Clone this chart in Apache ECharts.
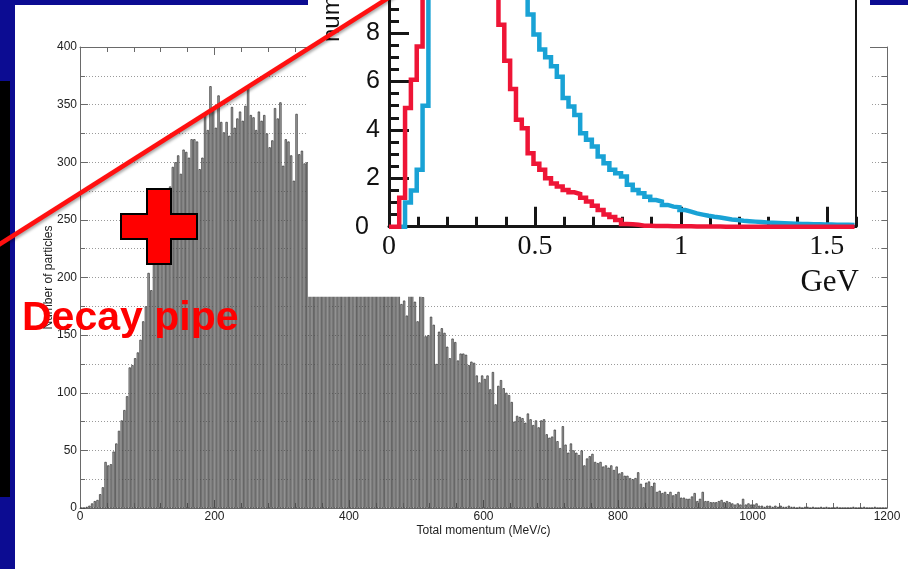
<!DOCTYPE html>
<html>
<head>
<meta charset="utf-8">
<title>Total momentum</title>
<script src="https://cdn.jsdelivr.net/npm/echarts@6/dist/echarts.min.js"></script>
<style>
html, body { margin: 0; padding: 0; background: #0c0c92; }
#chart { width: 908px; height: 569px; }
</style>
</head>
<body>
<div id="chart"></div>
<script>
// main histogram: counts per 4 MeV/c bin
var MOM_BIN = 4;
var counts0to200 = [
    0, 0, 1, 2, 4, 6, 7, 12, 18, 40,
    37, 38, 49, 56, 67, 76, 85, 97, 122, 124,
    130, 135, 146, 162, 175, 204, 189, 225, 238, 248,
    255, 262, 270, 279, 296, 300, 306, 290, 311, 309,
    304, 320, 320, 318, 294, 304, 341, 328, 366, 345
];
var counts200to400 = [
    330, 358, 335, 326, 335, 323, 348, 330, 338, 344,
    336, 349, 365, 341, 339, 328, 344, 336, 341, 325,
    313, 319, 347, 338, 352, 297, 320, 318, 306, 284,
    342, 307, 310, 299, 300, 297, 291, 300, 284, 288,
    279, 285, 271, 276, 268, 272, 259, 266, 255, 258
];
var counts400to600 = [
    254, 247, 250, 241, 245, 236, 239, 230, 233, 224,
    227, 218, 220, 212, 214, 205, 207, 198, 192, 177,
    180, 167, 188, 190, 179, 162, 186, 183, 149, 150,
    166, 159, 125, 153, 156, 152, 140, 130, 147, 144,
    128, 134, 134, 133, 124, 127, 126, 115, 109, 115
];
var counts600to800 = [
    112, 115, 103, 118, 90, 106, 111, 104, 100, 98,
    92, 75, 80, 79, 78, 74, 82, 77, 72, 76,
    70, 76, 77, 64, 61, 62, 68, 58, 52, 71,
    55, 48, 56, 50, 48, 46, 50, 37, 43, 45,
    47, 40, 39, 40, 36, 37, 35, 37, 33, 36
];
var counts800to1000 = [
    30, 31, 28, 28, 26, 25, 26, 31, 21, 18,
    22, 23, 19, 22, 14, 15, 13, 14, 12, 14,
    11, 12, 14, 9, 9, 8, 8, 10, 13, 6,
    8, 14, 6, 6, 5, 5, 5, 6, 7, 5,
    6, 5, 4, 3, 4, 3, 8, 3, 4, 3
];
var counts1000to1200 = [
    3, 4, 2, 2, 1, 2, 2, 1, 2, 1,
    2, 1, 1, 2, 1, 1, 0, 1, 0, 1,
    1, 0, 1, 0, 0, 1, 0, 1, 0, 0,
    0, 1, 0, 0, 0, 0, 0, 1, 0, 0,
    0, 1, 0, 0, 0, 1, 0, 0, 0, 0
];

// inset: two spectra in GeV, 0.02 GeV bins
var GEV_BIN = 0.02;
var redStart = 0.035;
var redCounts = [
    1.2, 4.9, 6.07, 7.45, 11, 14, 16.5, 18, 19, 19,
    18.5, 17.5, 16, 14.5, 13, 11.5, 10.2, 8.35, 6.86, 5.69,
    4.42, 4.07, 3.04, 2.6, 2.35, 2.0, 1.79, 1.66, 1.52, 1.42,
    1.35, 1.2, 1.04, 0.87, 0.69, 0.5, 0.4, 0.28, 0.11, 0.1,
    0.08, 0.04, 0.04, 0.03, 0.03, 0.03, 0.02, 0.02, 0.02, 0.02,
    0.01, 0.01, 0.01, 0.01, 0.01, 0, 0, 0, 0, 0,
    0, 0, 0, 0, 0, 0, 0, 0, 0, 0,
    0, 0, 0, 0, 0, 0, 0, 0
];
var blueStart = 0.055;
var blueCounts = [
    1.0, 1.5, 2.35, 5.0,
    9.8, 12, 14, 15.5, 16.5, 17, 17.2, 17, 16.5, 15.8,
    15, 14, 13, 12, 11.2, 10.4, 9.7,
    8.77, 7.94, 7.32, 7.0, 6.63, 6.2, 5.32, 4.97, 4.62, 3.86,
    3.59, 3.31, 2.9, 2.62, 2.35, 2.21, 2.07, 1.73, 1.52, 1.38,
    1.24, 1.1, 1.04, 0.9, 0.83, 0.8, 0.69, 0.62, 0.55, 0.5,
    0.45, 0.41, 0.38, 0.34, 0.3, 0.28, 0.25, 0.23, 0.21, 0.19,
    0.17, 0.16, 0.15, 0.14, 0.13, 0.12, 0.11, 0.11, 0.1, 0.1,
    0.09, 0.09, 0.08, 0.08, 0.08, 0.07
];

var momentumCounts = [].concat(counts0to200, counts200to400, counts400to600,
    counts600to800, counts800to1000, counts1000to1200);
var momentumBars = momentumCounts.map(function(c, i) {
    return [i * MOM_BIN + MOM_BIN / 2, c];
});

// histogram outline as step points (left edges + closing edge)
function stepPoints(start, values, lead) {
    var pts = lead ? [lead] : [];
    values.forEach(function(v, i) {
        pts.push([+(start + i * GEV_BIN).toFixed(3), v]);
    });
    pts.push([+(start + values.length * GEV_BIN).toFixed(3), values[values.length - 1]]);
    return pts;
}
var redPts = stepPoints(redStart, redCounts, [0, 0]);
var bluePts = stepPoints(blueStart, blueCounts, [0.035, 0]);

var AXIS_GRAY = '#6a6a6a';
var INK = '#161616';
var sansLabel = { color: '#222', fontSize: 12, fontFamily: 'Liberation Sans' };
var plain = function(v) { return String(v); };

var chart = echarts.init(document.getElementById('chart'));
chart.setOption({
    animation: false,
    backgroundColor: '#0c0c92',
    grid: [{
        left: 80, right: 21, top: 47, bottom: 61,
        outerBoundsMode: 'none'
    }, {
        left: 389, right: 52, top: -15.3, bottom: 342.3,
        show: true, borderColor: INK, borderWidth: 2,
        backgroundColor: 'rgba(0,0,0,0)', z: 21,
        outerBoundsMode: 'none'
    }],
    xAxis: [{
        gridIndex: 0, type: 'value', min: 0, max: 1200, interval: 200, position: 'bottom',
        axisLine: { onZero: false, lineStyle: { color: AXIS_GRAY, width: 1 } },
        axisTick: { inside: true, length: 8, lineStyle: { color: AXIS_GRAY } },
        minorTick: { show: true, splitNumber: 5, length: 5, lineStyle: { color: AXIS_GRAY } },
        axisLabel: Object.assign({ margin: 3, formatter: plain }, sansLabel),
        splitLine: { show: false },
        name: 'Total momentum (MeV/c)', nameLocation: 'middle', nameGap: 17,
        nameMoveOverlap: false,
        nameTextStyle: sansLabel
    }, {
        gridIndex: 0, type: 'value', min: 0, max: 1200, interval: 200, position: 'top',
        axisLine: { onZero: false, lineStyle: { color: AXIS_GRAY, width: 1 } },
        axisTick: { inside: true, length: 8, lineStyle: { color: AXIS_GRAY } },
        minorTick: { show: true, splitNumber: 5, length: 5, lineStyle: { color: AXIS_GRAY } },
        axisLabel: { show: false },
        splitLine: { show: false }
    }, {
        gridIndex: 1, type: 'value', min: 0, max: 1.6, interval: 0.5, position: 'bottom', z: 22,
        axisLine: { onZero: false, lineStyle: { color: INK, width: 3 } },
        axisTick: { inside: true, length: 20, lineStyle: { color: INK, width: 3 } },
        axisLabel: { color: '#111', fontSize: 28, fontFamily: 'Liberation Serif', margin: 6, showMaxLabel: false },
        splitLine: { show: false }
    }, {
        gridIndex: 1, type: 'value', min: 0, max: 1.6, interval: 0.1, position: 'bottom', z: 22,
        axisLine: { show: false, onZero: false },
        axisTick: { inside: true, length: 10, lineStyle: { color: INK, width: 3 } },
        axisLabel: { show: false },
        splitLine: { show: false }
    }],
    yAxis: [{
        gridIndex: 0, type: 'value', min: 0, max: 400, interval: 50, position: 'left',
        axisLine: { show: true, onZero: false, lineStyle: { color: AXIS_GRAY, width: 1 } },
        axisTick: { show: true, inside: true, length: 8, lineStyle: { color: AXIS_GRAY } },
        minorTick: { show: true, splitNumber: 2, length: 5, lineStyle: { color: AXIS_GRAY } },
        axisLabel: Object.assign({ margin: 3, formatter: plain }, sansLabel),
        splitLine: { show: false },
        name: 'Number of particles', nameLocation: 'middle', nameGap: 25,
        nameMoveOverlap: false,
        nameTextStyle: sansLabel
    }, {
        gridIndex: 0, type: 'value', min: 0, max: 400, interval: 25, position: 'right',
        axisLine: { show: true, onZero: false, lineStyle: { color: AXIS_GRAY, width: 1 } },
        axisTick: { show: true, inside: true, length: 5, lineStyle: { color: AXIS_GRAY } },
        axisLabel: { show: false },
        splitLine: { show: true, lineStyle: { color: '#9a9a9a', width: 1, type: [1, 2] } }
    }, {
        gridIndex: 1, type: 'value', min: 0, max: 10, interval: 2, position: 'left', z: 22,
        axisLine: { show: true, onZero: false, lineStyle: { color: INK, width: 3 } },
        axisTick: { show: true, inside: true, length: 20, lineStyle: { color: INK, width: 3 } },
        minorTick: { show: true, splitNumber: 4, length: 10, lineStyle: { color: INK, width: 3 } },
        axisLabel: {
            color: '#111', fontSize: 25, fontFamily: 'Liberation Sans', margin: 9,
            formatter: function(v) { return v === 0 ? '{z|0}' : String(v); },
            rich: { z: { fontSize: 25, fontFamily: 'Liberation Sans', color: '#111', padding: [0, 11, 0, 0] } }
        },
        splitLine: { show: false }
    }],
    series: [{
        type: 'bar', xAxisIndex: 0, yAxisIndex: 0, z: 2,
        data: momentumBars,
        barWidth: 2.3,
        itemStyle: { color: '#a8a8a8', borderColor: '#333333', borderWidth: 0.7 }
    }, {
        type: 'line', xAxisIndex: 2, yAxisIndex: 2, z: 23,
        step: 'end', symbol: 'none', data: bluePts,
        lineStyle: { color: '#19a2d5', width: 4.5, join: 'miter' }
    }, {
        type: 'line', xAxisIndex: 2, yAxisIndex: 2, z: 24,
        step: 'end', symbol: 'none', data: redPts,
        lineStyle: { color: '#ee1536', width: 4.5, join: 'miter' }
    }],
    graphic: [
        // slide panel
        { type: 'rect', z: -10, silent: true, shape: { x: 15, y: 5, width: 893, height: 564 }, style: { fill: '#ffffff' } },
        { type: 'rect', z: -10, silent: true, shape: { x: 0, y: 81, width: 10, height: 416 }, style: { fill: '#000000' } },
        // inset background
        { type: 'rect', z: 20, silent: true, shape: { x: 308, y: 0, width: 562, height: 296.7 }, style: { fill: '#ffffff' } },
        { type: 'text', z: 25, silent: true, x: 859, y: 282.5,
          style: { text: 'GeV', fill: '#111', font: '31px "Liberation Serif"', textAlign: 'right', textVerticalAlign: 'middle', verticalAlign: 'middle' } },
        { type: 'text', z: 25, silent: true, x: 332, y: 42, rotation: Math.PI / 2,
          style: { text: 'number', fill: '#111', font: '24px "Liberation Sans"', textAlign: 'left', textVerticalAlign: 'middle', verticalAlign: 'middle' } },
        // annotations
        { type: 'line', z: 30, silent: true, shape: { x1: -10, y1: 250.3, x2: 395, y2: -6.3 },
          style: { stroke: '#ff1010', lineWidth: 4.5, shadowBlur: 3, shadowColor: 'rgba(0,0,0,0.35)', shadowOffsetX: 1, shadowOffsetY: 2 } },
        { type: 'polygon', z: 30, silent: true,
          shape: { points: [[147, 189], [171, 189], [171, 214], [197, 214], [197, 239], [171, 239],
                            [171, 264], [147, 264], [147, 239], [121, 239], [121, 214], [147, 214]] },
          style: { fill: '#ff0000', stroke: '#000', lineWidth: 2 } },
        { type: 'text', z: 30, silent: true, x: 22, y: 319,
          style: { text: 'Decay pipe', fill: '#ff0000', font: 'bold 41px "Liberation Sans"', textAlign: 'left', textVerticalAlign: 'middle', verticalAlign: 'middle' } }
    ]
});
</script>
</body>
</html>
